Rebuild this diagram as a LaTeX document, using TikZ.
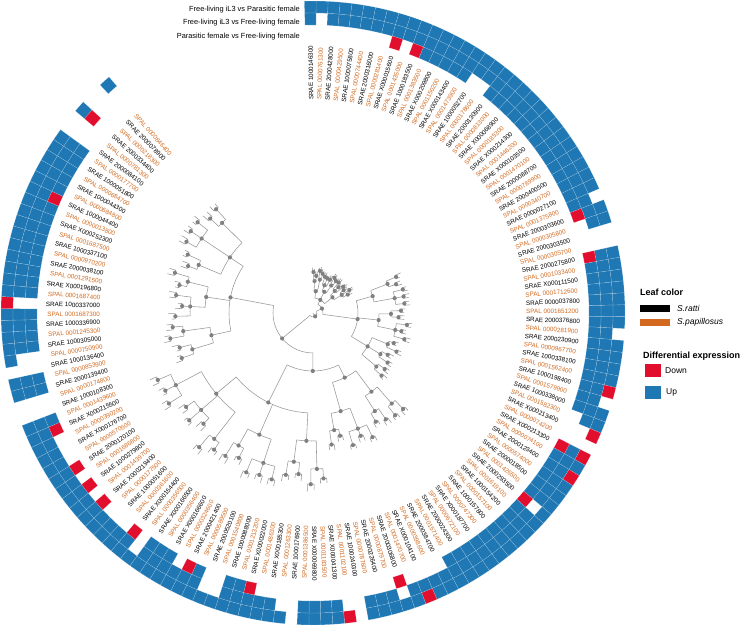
\documentclass[tikz,border=0pt]{standalone}
\usepackage{fontspec}
\setmainfont{Liberation Sans}
\definecolor{hblue}{RGB}{31,120,180}
\definecolor{hred}{RGB}{225,14,45}
\definecolor{spal}{RGB}{210,105,30}
\definecolor{trc}{RGB}{150,150,150}
\definecolor{dotc}{RGB}{128,128,128}
\newcommand\hcell[4]{\path[#4] ({#1-1.0985}:#2) arc[start angle={#1-1.0985},end angle={#1+1.0985},radius=#2] -- ({#1+1.0985}:#3) arc[start angle={#1+1.0985},end angle={#1-1.0985},radius=#3] -- cycle;}
\def\hmrow#1#2#3\relax{\hcell{\t}{300}{312}{h#1}\hcell{\t}{288}{300}{h#2}\hcell{\t}{276}{288}{h#3}}
\begin{document}
\begin{tikzpicture}[x=1pt,y=1pt,
  tr/.style={draw=trc,line width=0.55pt},
  hU/.style={fill=hblue,draw=white,draw opacity=0.3,line width=0.35pt},
  hD/.style={fill=hred,draw=white,draw opacity=0.3,line width=0.35pt},
  hN/.style={},
  lab/.style={inner sep=0pt,font=\fontsize{6.3}{7}\selectfont},
  leg/.style={anchor=west,inner sep=0pt,font=\fontsize{8.5}{10}\selectfont},
  legt/.style={anchor=west,inner sep=0pt,font=\bfseries\fontsize{9}{10}\selectfont},
  coll/.style={anchor=east,inner sep=0pt,font=\fontsize{7.4}{9}\selectfont}]
\useasboundingbox (0,0) rectangle (745,627);
\begin{scope}[shift={(313,314)}]
% ---------- tree: pair level and small clades ----------
\foreach \lo/\hi/\rb/\rc/\dp/\dq in {
 1/2/32/22/9/4, 3/4/34/22/9/4, 5/7/30/24/9/4, 8/9/33/24/9/4, 10/12/31/25/9/4, 13/15/34/25/9/4,
 16/17/80/62/11/5, 18/20/83/62/11/5, 21/22/78/66/11/5, 23/25/84/66/11/5, 26/27/81/64/11/5, 28/29/79/64/11/5, 30/31/83/64/11/5,
 32/33/120/98/14/5, 34/35/116/98/14/5, 36/38/124/102/14/5, 39/40/119/102/14/5,
 41/42/156/128/16/6, 43/44/150/128/16/6, 45/47/158/133/16/6, 48/49/152/133/16/6, 50/51/160/126/16/6, 52/54/148/126/16/6, 55/57/155/126/16/6,
 58/59/126/104/15/6, 60/61/131/104/15/6, 62/64/123/108/15/6, 65/66/129/108/15/6, 67/68/124/100/15/6, 69/71/134/100/15/6, 72/73/128/100/15/6}{
  \pgfmathsetmacro\aL{90.5-(2*\lo-1.5)*2.197}
  \pgfmathsetmacro\aH{90.5-(2*\hi-1.5)*2.197}
  \pgfmathsetmacro\aM{(\aL+\aH)/2}
  \draw[tr] (\aL:\rb) arc[start angle=\aL,end angle=\aH,radius=\rb];
  \draw[tr] (\aM:\rc) -- (\aM:\rb);
  \fill[dotc] (\aM:\rb) circle (2.1);
  \foreach \p in {\lo,...,\hi}{
    \pgfmathsetmacro\aA{90.5-(2*\p-2)*2.197}
    \pgfmathsetmacro\aB{90.5-(2*\p-1)*2.197}
    \pgfmathsetmacro\aP{(\aA+\aB)/2}
    \pgfmathsetmacro\rN{\rb+\dp*(0.45+0.55*abs(sin(\p*97)))}
    \pgfmathsetmacro\rA{\rN+\dq*(0.6+0.6*abs(sin(\p*61)))}
    \pgfmathsetmacro\rB{\rN+\dq*(0.6+0.6*abs(cos(\p*73)))}
    \draw[tr] (\aP:\rb) -- (\aP:\rN);
    \draw[tr] (\aA:\rA) -- (\aA:\rN) arc[start angle=\aA,end angle=\aB,radius=\rN] -- (\aB:\rB);
    \fill[dotc] (\aP:\rN) circle (2.1);
  }
}
% ---------- deeper clades ----------
\foreach \x/\y/\rr/\q in {
 2.5/6.5/22/15, 11.5/16.5/24/15, 21.5/27.5/25/15,
 32.5/37.5/62/45, 42.5/47.5/66/45, 52.5/60.5/64/45,
 64.5/68.5/98/72, 73.5/78.5/102/72,
 82.5/86.5/128/100, 91.5/96.5/133/100, 100.5/111.5/126/100,
 116.5/120.5/104/84, 125.5/130.5/108/84, 134.5/144.5/100/84,
 4.5/24.5/15/10, 35/56.5/45/10, 66.5/76/72/58, 84.5/106/100/58, 118.5/139.5/84/40,
 71.25/95.25/58/40, 14.5/45.75/10/4, 83.25/129/40/4, 30.125/106.125/4/0}{
  \pgfmathsetmacro\aL{90.5-(\x-1)*2.197}
  \pgfmathsetmacro\aH{90.5-(\y-1)*2.197}
  \pgfmathsetmacro\aM{(\aL+\aH)/2}
  \draw[tr] (\aL:\rr) arc[start angle=\aL,end angle=\aH,radius=\rr];
  \draw[tr] (\aM:\q) -- (\aM:\rr);
  \fill[dotc] (\aM:\rr) circle (2.1);
}
% ---------- heatmap ----------
\foreach \c [count=\i] in {
 UUN,UNN,UUN,UUN,UUN,UUN,UUN,UUN,UUD,UUN,
 UUD,UUU,UUU,UUU,UUU,UUU,UUN,UUN,UUU,UUU,
 UUU,UUU,UUU,UUU,UUU,UUU,UUU,UUU,UUU,UUU,
 UUU,NUU,UUD,UUN,NNN,NNN,UUD,UUU,UUU,UUU,
 UUU,UUU,UUU,NUU,UUU,UUU,UUU,UUU,DUU,NUU,
 UUU,UUN,DNN,NNN,DUD,UUU,DUU,UUU,UUU,UUU,
 UND,UUU,UUU,UUU,UUU,UUU,UUU,UUU,UUU,UUU,
 UUN,UUN,DUN,UUN,UND,UUN,UUN,UUN,NNN,DNN,
 UUN,UUN,UUN,UUN,NNN,UNN,UUN,UUN,UUD,UUU,
 UUU,UNN,UNN,UUU,UUD,UUN,UUU,UUU,UUU,UNN,
 UUD,UUN,UUN,UUN,UUD,UUN,UUD,UUN,UUD,UUN,
 UUN,UUN,UUD,UUU,NNN,NNN,UUU,UUU,NNN,UNN,
 UUU,UUU,UUU,UUU,DNN,UUU,UUU,UUU,UUU,UUU,
 UUU,UUU,UUU,UUU,UUD,UUU,UUU,UUU,UUU,UUU,
 NNN,NNN,UDN,NNN,NNN,UNN}{
  \pgfmathsetmacro\t{90.5-(\i-1)*2.197}
  \expandafter\hmrow\c\relax
}
% ---------- leaf labels ----------
\foreach \lab [count=\i] in {
SRAE 1000146300,SPAL 0000761300,SRAE 2000428000,SPAL 0000429500,SRAE 1000075800,SPAL 0000744400,SRAE 2000316000,SPAL 0000281400,SRAE X000015600,SPAL 0001435000,
SRAE 1000183500,SPAL 0001383500,SRAE X000209800,SPAL 0001150200,SRAE X000143400,SPAL 0001473900,SRAE 1000052700,SPAL 0000178600,SRAE 2000130900,SPAL 0000813000,
SRAE X000068900,SPAL 0000185300,SRAE X000214300,SPAL 0001446200,SRAE X000103500,SPAL 0001470100,SRAE 2000088700,SPAL 0000789900,SRAE 2000400500,SPAL 0000340700,
SRAE 0000027100,SPAL 0001375800,SRAE 2000303600,SPAL 0000305800,SRAE 2000303500,SPAL 0000305700,SRAE 2000275800,SPAL 0001033400,SRAE X000111500,SPAL 0001712600,
SRAE 0000037800,SPAL 0001651200,SRAE 2000376800,SPAL 0000281900,SRAE 2000230900,SPAL 0000967700,SRAE 1000338100,SPAL 0001562400,SRAE 1000198400,SPAL 0001579900,
SRAE 1000338000,SPAL 0001582300,SRAE X000213400,SPAL 0000074200,SRAE X000213300,SPAL 0000074100,SRAE 2000123400,SPAL 0000574000,SRAE 2000018500,SPAL 0001426500,
SRAE 2000293500,SPAL 0001619100,SRAE 1000154200,SPAL 0000157100,SRAE 1000157800,SPAL 0000747300,SRAE X000187700,SPAL 0000672100,SRAE 2000024300,SPAL 0001571400,
SRAE 2000384700,SPAL 0000398600,SRAE X000104100,SPAL 0001470700,SRAE 2000306800,SPAL 0000879700,SRAE 2000226400,SPAL 0000787600,SRAE 1000240300,SPAL 0001102100,
SRAE X000041300,SPAL 0001183500,SRAE X000069800,SPAL 0001386500,SRAE 1000176900,SPAL 0001263300,SRAE X000185300,SPAL 0001486300,SRAE X000022000,SPAL 0001213200,
SRAE 1000088000,SPAL 0001540800,SRAE 2000520100,SPAL 0000589500,SRAE 2000421400,SPAL 0000324600,SRAE X000166600,SPAL 0000356400,SRAE X000166500,SPAL 0000356500,
SRAE X000154400,SPAL 0000361600,SRAE 1000051600,SPAL 0000177500,SRAE X000219400,SPAL 0001439700,SRAE 1000279800,SPAL 0001686800,SRAE 2000120100,SPAL 0000570500,
SRAE X000176700,SPAL 0000390200,SRAE X000215500,SPAL 0001439600,SRAE 1000108300,SPAL 0000174800,SRAE 2000139400,SPAL 0000853900,SRAE 1000136400,SPAL 0000750900,
SRAE 1000305000,SPAL 0001245300,SRAE 1000336900,SPAL 0001687300,SRAE 1000337000,SPAL 0001687400,SRAE X000196800,SPAL 0001291500,SRAE 2000038100,SPAL 0000970200,
SRAE 1000337100,SPAL 0001687500,SRAE X000252300,SPAL 0000013800,SRAE 1000044400,SPAL 0000684800,SRAE 1000044300,SPAL 0000684700,SRAE 1000051800,SPAL 0000177700,
SRAE 2000084100,SPAL 0000781300,SRAE 2000334400,SPAL 0000218300,SRAE 2000078900,SPAL 0000846400}{
  \pgfmathsetmacro\t{90.5-(\i-1)*2.197}
  \ifodd\i\def\lc{black}\else\def\lc{spal}\fi
  \pgfmathparse{\t<-90?1:0}
  \ifnum\pgfmathresult=1
    \pgfmathsetmacro\tR{\t+180}
    \node[lab,text=\lc,anchor=east,rotate=\tR] (L\i) at (\t:213) {\lab};
  \else
    \node[lab,text=\lc,anchor=west,rotate=\t] (L\i) at (\t:213) {\lab};
  \fi
}
\end{scope}
% ---------- column labels ----------
\node[coll] (c1) at (300,617) {Free-living iL3 vs Parasitic female};
\node[coll] (c2) at (300,604) {Free-living iL3 vs Free-living female};
\node[coll] (c3) at (300,590.5) {Parasitic female vs Free-living female};
% ---------- legend ----------
\node[legt] (lg1) at (640,335) {Leaf color};
\node[anchor=west,fill=black,minimum width=30pt,minimum height=7pt,inner sep=0pt] (k1) at (640,318.5) {};
\node[leg,font=\itshape\fontsize{8.5}{10}\selectfont] (k1t) at (677,318.5) {S.ratti};
\node[anchor=west,fill=spal,minimum width=30pt,minimum height=7pt,inner sep=0pt] (k2) at (640,304.5) {};
\node[leg,font=\itshape\fontsize{8.5}{10}\selectfont] (k2t) at (677,304.5) {S.papillosus};
\node[legt] (lg2) at (643,271) {Differential expression};
\node[anchor=west,fill=hred,minimum width=16pt,minimum height=13pt,inner sep=0pt] (k3) at (645,256.5) {};
\node[leg] (k3t) at (665,256.5) {Down};
\node[anchor=west,fill=hblue,minimum width=16pt,minimum height=13pt,inner sep=0pt] (k4) at (645,234.5) {};
\node[leg] (k4t) at (666,234.5) {Up};
\end{tikzpicture}
\end{document}
